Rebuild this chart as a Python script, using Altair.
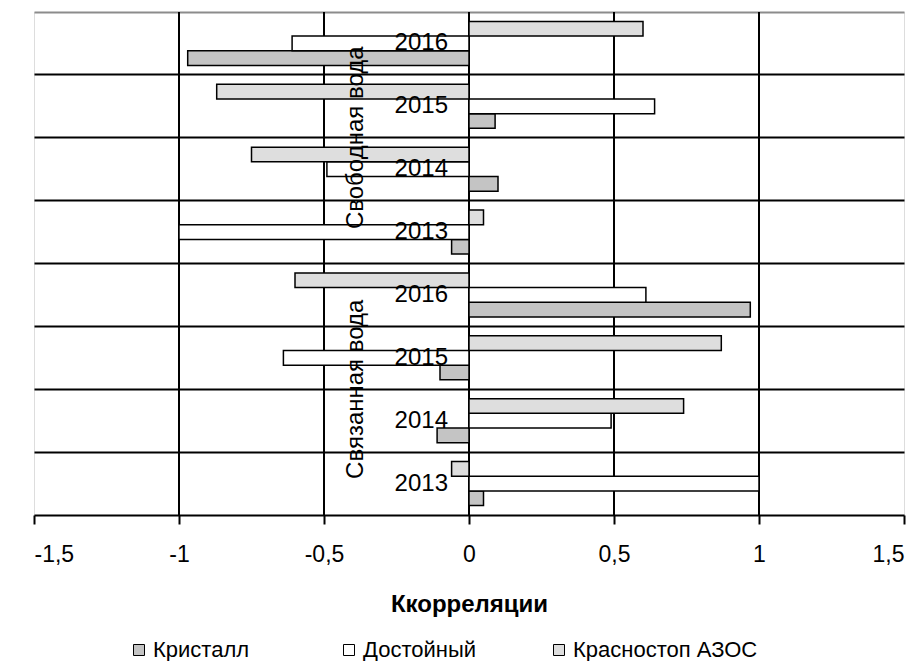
import altair as alt
import pandas as pd

groups = ["Связанная вода", "Свободная вода"]
years = ["2013", "2014", "2015", "2016"]
series = ["Кристалл", "Достойный", "Красностоп АЗОС"]
colors = ["#c4c4c4", "#ffffff", "#dedede"]

# order: Связанная 2013..2016, Свободная 2013..2016
kristall = [0.05, -0.11, -0.10, 0.97, -0.06, 0.10, 0.09, -0.97]
dostoyny = [1.00, 0.49, -0.64, 0.61, -1.00, -0.49, 0.64, -0.61]
krasnostop = [-0.06, 0.74, 0.87, -0.60, 0.05, -0.75, -0.87, 0.60]

x_ticks = [-1.5, -1.0, -0.5, 0.0, 0.5, 1.0, 1.5]
grid_x = [-1.0, -0.5, 0.0, 0.5, 1.0]

cats = [f"{g}|{y}" for g in groups for y in years]
cat_order = list(reversed(cats))  # top to bottom

rows = []
for i, c in enumerate(cats):
    for s, vals in zip(series, [kristall, dostoyny, krasnostop]):
        rows.append({"cat": c, "series": s, "value": vals[i]})
df = pd.DataFrame(rows)

year_df = pd.DataFrame({"cat": cats, "label": [c.split("|")[1] for c in cats]})
group_df = pd.DataFrame({"cat": [f"{g}|2014" for g in groups], "label": groups})
grid_df = pd.DataFrame({"v": grid_x})

FONT = "Liberation Sans"
FS_IN = 24
FS_AX = 23

yscale = alt.Scale(domain=cat_order, paddingInner=0, paddingOuter=0)
xscale = alt.Scale(domain=[-1.5, 1.5], nice=False, zero=False)

top_cat = cat_order[0]
y_enc = alt.Y("cat:N", scale=yscale, sort=cat_order,
              axis=alt.Axis(title=None, labels=False, ticks=False, domain=False,
                            grid=True, gridWidth=2, bandPosition=0,
                            gridColor={"condition": {"test": f"datum.value === '{top_cat}'",
                                                     "value": "#8c8c8c"},
                                       "value": "black"}))

vrules = alt.Chart(grid_df).mark_rule(color="black", strokeWidth=2).encode(
    x=alt.X("v:Q", scale=xscale,
            axis=alt.Axis(values=x_ticks, grid=False, title="Ккорреляции",
                          labelExpr="replace(toString(datum.value), '.', ',')",
                          labelFont=FONT, labelFontSize=FS_AX, labelColor="black",
                          labelPadding=19, domainColor="black", domainWidth=2,
                          tickColor="black", tickWidth=2, tickSize=9,
                          titleFont=FONT, titleFontSize=24, titleFontWeight="bold",
                          titleColor="black", titlePadding=26))
)

bars = alt.Chart(df).mark_bar(stroke="black", strokeWidth=1.5).encode(
    y=y_enc,
    yOffset=alt.YOffset("series:N", sort=["Красностоп АЗОС", "Достойный", "Кристалл"],
                        scale=alt.Scale(paddingInner=0, paddingOuter=0.64)),
    x=alt.X("value:Q", scale=xscale),
    fill=alt.Fill("series:N", scale=alt.Scale(domain=series, range=colors),
                  legend=alt.Legend(title=None, orient="none", direction="horizontal",
                                    columns=3, gridAlign="all",
                                    legendX=94, legendY=627, columnPadding=0,
                                    symbolType="square", symbolSize=121,
                                    symbolStrokeColor="black", symbolStrokeWidth=1,
                                    labelFont=FONT, labelFontSize=22, labelColor="black",
                                    labelOffset=3, labelLimit=400)),
)

year_text = alt.Chart(year_df).mark_text(
    align="right", baseline="middle", dx=-21, font=FONT, fontSize=FS_IN, color="black"
).encode(y=alt.Y("cat:N", scale=yscale, sort=cat_order), x=alt.datum(0), text="label:N")

group_text = alt.Chart(group_df).mark_text(
    align="center", baseline="middle", angle=270, font=FONT, fontSize=FS_IN, color="black"
).encode(y=alt.Y("cat:N", scale=yscale, sort=cat_order, bandPosition=0),
         x=alt.datum(-0.39), text="label:N")

chart = alt.layer(vrules, bars, year_text, group_text).properties(
    width=870, height=503,
    autosize=alt.AutoSizeParams(type="none"),
    padding={"left": 26, "top": 4, "right": 10, "bottom": 146},
).configure_view(stroke="#8c8c8c", strokeWidth=2).configure(background="white")

chart.save("out.html", embed_options={"renderer": "svg", "actions": False})
